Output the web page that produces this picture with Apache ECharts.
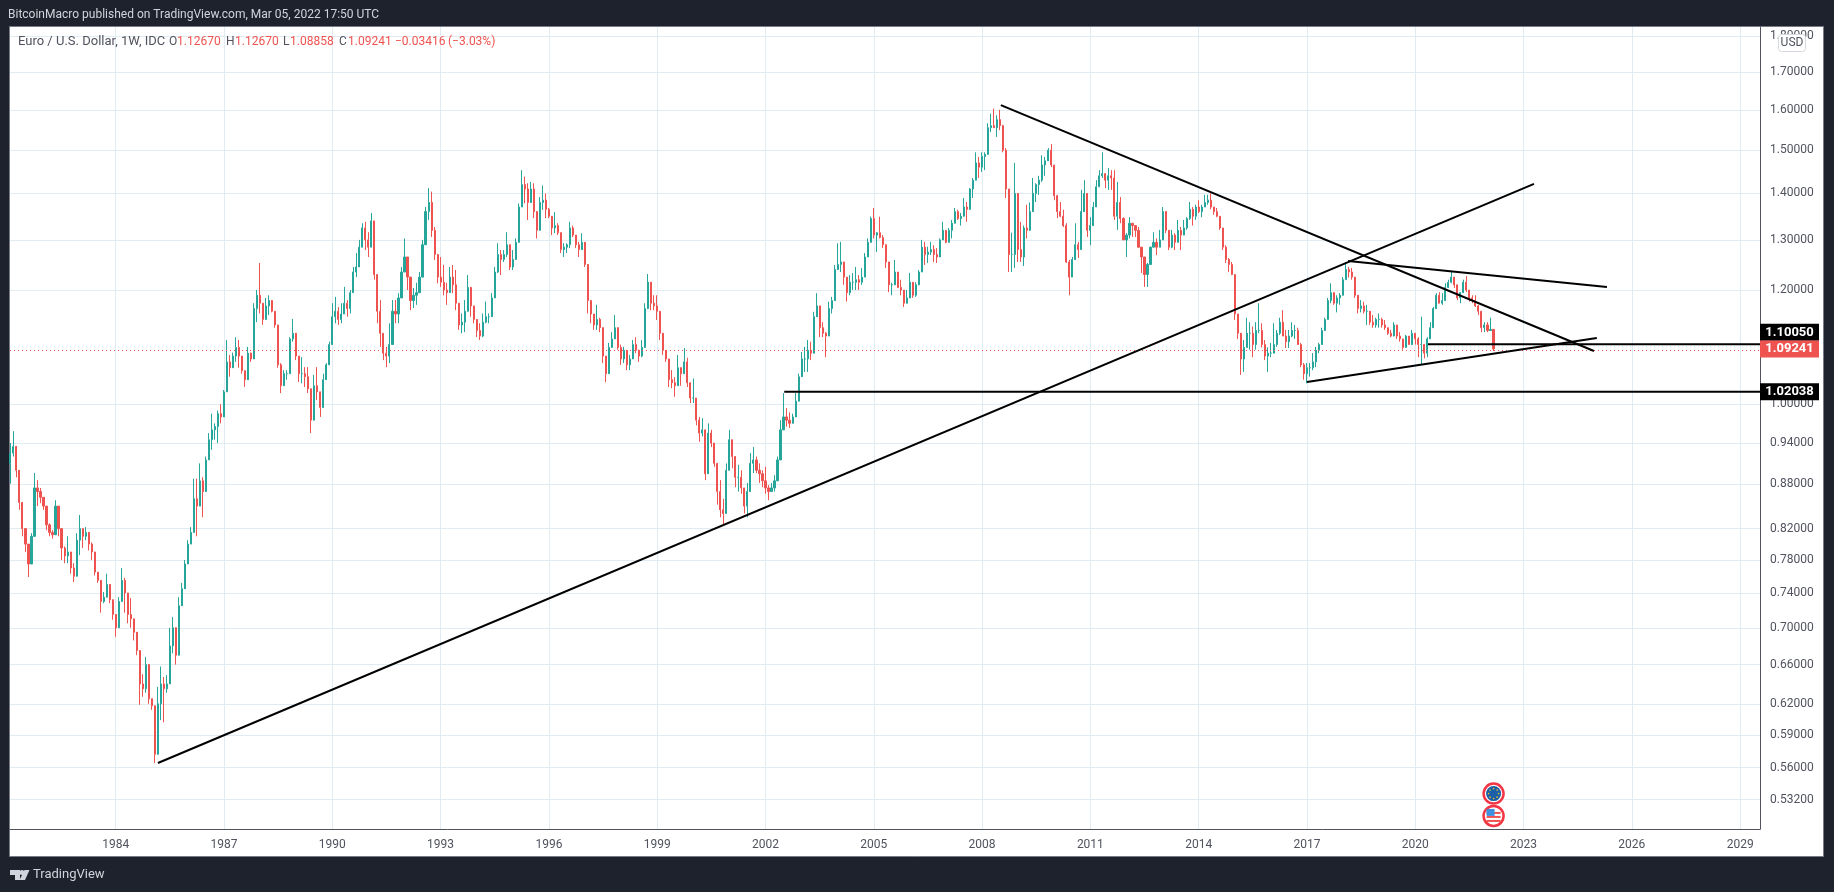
<!DOCTYPE html>
<html>
<head>
<meta charset="utf-8">
<title>EUR/USD weekly</title>
<script src="https://cdn.jsdelivr.net/npm/echarts@6/dist/echarts.min.js"></script>
<style>
  html, body { margin: 0; height: 100%; background: #1e222d; overflow: hidden; }
  #chart { width: 1834px; height: 892px; }
</style>
</head>
<body>
<div id="chart"></div>
<script>
// values, one row per year (first row starts Feb 1981, last ends Mar 2022)
const closes = [
  0.925,0.935,0.90,0.855,0.82,0.80,0.775,0.81,0.875,0.87,0.862,
  0.85,0.825,0.815,0.812,0.85,0.82,0.795,0.785,0.79,0.77,0.76,0.805,
  0.82,0.81,0.815,0.80,0.79,0.765,0.755,0.73,0.735,0.75,0.732,0.715,
  0.70,0.73,0.755,0.74,0.715,0.71,0.695,0.675,0.64,0.635,0.66,0.625,
  0.618,0.572,0.62,0.64,0.635,0.64,0.68,0.70,0.67,0.725,0.745,0.775,
  0.80,0.815,0.86,0.85,0.885,0.87,0.915,0.945,0.96,0.965,0.985,0.98,
  1.02,1.07,1.06,1.08,1.095,1.08,1.055,1.04,1.085,1.075,1.165,1.19,
  1.175,1.145,1.17,1.18,1.16,1.135,1.065,1.03,1.05,1.05,1.11,1.12,
  1.08,1.05,1.05,1.045,1.025,0.975,1.03,1.02,0.995,1.04,1.065,1.10,
  1.15,1.16,1.145,1.155,1.175,1.165,1.195,1.235,1.245,1.285,1.325,1.30,
  1.285,1.34,1.23,1.16,1.12,1.085,1.08,1.10,1.16,1.155,1.185,1.235,
  1.265,1.225,1.18,1.19,1.195,1.225,1.29,1.36,1.38,1.32,1.27,1.225,
  1.215,1.20,1.195,1.225,1.21,1.175,1.135,1.14,1.16,1.205,1.17,1.145,
  1.125,1.115,1.14,1.15,1.15,1.185,1.235,1.27,1.26,1.27,1.29,1.245,
  1.26,1.295,1.37,1.42,1.41,1.38,1.41,1.36,1.32,1.38,1.385,1.365,
  1.35,1.325,1.33,1.315,1.28,1.285,1.29,1.325,1.31,1.29,1.28,1.295,
  1.25,1.18,1.155,1.135,1.145,1.13,1.08,1.05,1.095,1.11,1.13,1.095,
  1.075,1.09,1.065,1.075,1.10,1.09,1.08,1.095,1.165,1.215,1.175,1.17,
  1.16,1.12,1.09,1.075,1.04,1.035,1.03,1.06,1.05,1.07,1.035,1.01,
  1.01,0.975,0.955,0.96,0.895,0.955,0.94,0.91,0.87,0.845,0.84,0.90,
  0.945,0.92,0.89,0.89,0.875,0.85,0.87,0.91,0.915,0.90,0.895,0.885,
  0.875,0.87,0.875,0.885,0.915,0.96,0.98,0.975,0.97,0.98,1.005,1.045,
  1.075,1.075,1.09,1.085,1.15,1.17,1.13,1.12,1.115,1.165,1.18,1.24,
  1.25,1.255,1.225,1.195,1.215,1.215,1.22,1.215,1.225,1.265,1.295,1.345,
  1.31,1.315,1.305,1.29,1.255,1.21,1.21,1.235,1.205,1.20,1.175,1.185,
  1.215,1.19,1.21,1.235,1.285,1.27,1.275,1.28,1.27,1.265,1.30,1.32,
  1.295,1.32,1.335,1.36,1.345,1.35,1.37,1.365,1.41,1.43,1.47,1.46,
  1.485,1.49,1.555,1.56,1.555,1.575,1.56,1.50,1.41,1.27,1.27,1.40,
  1.28,1.265,1.325,1.32,1.36,1.40,1.42,1.43,1.465,1.475,1.50,1.465,
  1.395,1.36,1.35,1.33,1.255,1.225,1.26,1.29,1.28,1.36,1.40,1.32,
  1.33,1.37,1.415,1.44,1.445,1.43,1.44,1.435,1.35,1.38,1.345,1.30,
  1.31,1.335,1.33,1.32,1.285,1.265,1.23,1.25,1.285,1.295,1.285,1.30,
  1.36,1.32,1.285,1.31,1.295,1.32,1.31,1.325,1.345,1.365,1.35,1.37,
  1.36,1.37,1.38,1.385,1.37,1.36,1.35,1.325,1.285,1.26,1.25,1.23,
  1.155,1.12,1.075,1.095,1.12,1.12,1.10,1.125,1.125,1.10,1.08,1.085,
  1.085,1.10,1.12,1.14,1.115,1.105,1.115,1.125,1.125,1.10,1.065,1.05,
  1.06,1.06,1.07,1.09,1.10,1.125,1.145,1.18,1.195,1.175,1.185,1.19,
  1.22,1.24,1.235,1.225,1.19,1.165,1.17,1.16,1.16,1.14,1.135,1.145,
  1.145,1.135,1.13,1.12,1.115,1.135,1.115,1.11,1.095,1.115,1.10,1.12,
  1.11,1.10,1.10,1.085,1.11,1.13,1.165,1.19,1.175,1.18,1.205,1.215,
  1.225,1.21,1.185,1.195,1.215,1.20,1.185,1.18,1.17,1.16,1.13,1.135,
  1.125,1.127,1.09241
];
const highs = [
  0.94,0.958,0.925,0.897,0.845,0.814,0.80,0.814,0.896,0.886,0.875,
  0.858,0.835,0.827,0.818,0.858,0.835,0.82,0.797,0.81,0.784,0.776,0.814,
  0.838,0.82,0.822,0.807,0.802,0.776,0.761,0.749,0.741,0.763,0.747,0.728,
  0.712,0.735,0.77,0.758,0.735,0.734,0.705,0.684,0.672,0.65,0.668,0.639,
  0.624,0.60,0.637,0.658,0.647,0.649,0.70,0.712,0.697,0.735,0.752,0.78,
  0.805,0.822,0.888,0.888,0.91,0.89,0.92,0.955,0.985,0.97,0.99,1.00,
  1.023,1.108,1.082,1.086,1.113,1.108,1.077,1.052,1.096,1.086,1.175,1.20,
  1.253,1.162,1.185,1.19,1.175,1.148,1.117,1.068,1.056,1.056,1.113,1.146,
  1.117,1.068,1.078,1.061,1.061,1.012,1.048,1.061,1.018,1.05,1.068,1.105,
  1.175,1.187,1.168,1.175,1.206,1.181,1.20,1.245,1.273,1.30,1.335,1.338,
  1.316,1.357,1.30,1.224,1.181,1.12,1.096,1.138,1.181,1.181,1.194,1.245,
  1.303,1.259,1.206,1.204,1.214,1.235,1.30,1.37,1.412,1.404,1.327,1.269,
  1.265,1.249,1.214,1.245,1.249,1.239,1.162,1.156,1.181,1.229,1.206,1.162,
  1.144,1.138,1.156,1.178,1.156,1.194,1.245,1.293,1.279,1.279,1.316,1.265,
  1.279,1.303,1.378,1.453,1.438,1.423,1.426,1.423,1.346,1.392,1.418,1.40,
  1.368,1.348,1.359,1.335,1.296,1.293,1.293,1.338,1.33,1.31,1.296,1.314,
  1.273,1.239,1.178,1.153,1.172,1.148,1.126,1.073,1.103,1.122,1.153,1.113,
  1.10,1.096,1.082,1.082,1.108,1.113,1.091,1.108,1.175,1.231,1.194,1.19,
  1.19,1.148,1.108,1.087,1.07,1.056,1.044,1.082,1.061,1.094,1.077,1.023,
  1.042,1.00,0.98,0.978,0.92,0.97,0.96,0.93,0.905,0.886,0.86,0.91,
  0.96,0.945,0.915,0.908,0.90,0.867,0.882,0.925,0.934,0.92,0.91,0.90,
  0.905,0.879,0.882,0.893,0.92,0.975,1.018,0.994,0.987,0.985,1.018,1.05,
  1.087,1.096,1.108,1.105,1.159,1.194,1.159,1.14,1.122,1.178,1.187,1.249,
  1.293,1.296,1.243,1.21,1.229,1.233,1.245,1.229,1.243,1.273,1.303,1.349,
  1.368,1.316,1.349,1.31,1.289,1.235,1.214,1.259,1.229,1.22,1.196,1.20,
  1.233,1.21,1.215,1.239,1.30,1.296,1.286,1.296,1.289,1.283,1.303,1.338,
  1.31,1.325,1.342,1.368,1.364,1.357,1.39,1.381,1.412,1.435,1.495,1.484,
  1.495,1.495,1.566,1.59,1.603,1.586,1.60,1.562,1.505,1.38,1.315,1.47,
  1.346,1.338,1.33,1.375,1.38,1.435,1.423,1.44,1.488,1.484,1.505,1.515,
  1.46,1.397,1.381,1.364,1.335,1.259,1.265,1.335,1.296,1.408,1.43,1.348,
  1.348,1.381,1.43,1.453,1.495,1.438,1.458,1.453,1.453,1.426,1.392,1.348,
  1.314,1.348,1.335,1.327,1.327,1.283,1.265,1.253,1.286,1.316,1.303,1.321,
  1.37,1.346,1.31,1.321,1.314,1.342,1.327,1.342,1.348,1.381,1.37,1.375,
  1.385,1.375,1.397,1.397,1.40,1.37,1.368,1.348,1.321,1.289,1.263,1.255,
  1.22,1.144,1.113,1.108,1.148,1.14,1.132,1.14,1.175,1.138,1.108,1.095,
  1.103,1.138,1.126,1.148,1.162,1.126,1.126,1.14,1.135,1.13,1.103,1.068,
  1.068,1.068,1.085,1.096,1.103,1.13,1.148,1.185,1.213,1.187,1.19,1.194,
  1.225,1.255,1.245,1.243,1.22,1.185,1.181,1.178,1.172,1.156,1.153,1.148,
  1.156,1.148,1.144,1.13,1.126,1.14,1.13,1.122,1.11,1.117,1.113,1.126,
  1.12,1.113,1.15,1.096,1.113,1.14,1.168,1.194,1.196,1.194,1.213,1.22,
  1.235,1.224,1.206,1.196,1.22,1.227,1.194,1.19,1.19,1.172,1.156,1.14,
  1.14,1.148,1.1267
];
const lows = [
  0.881,0.92,0.89,0.845,0.81,0.79,0.759,0.784,0.827,0.85,0.854,
  0.845,0.818,0.81,0.807,0.822,0.81,0.78,0.776,0.776,0.763,0.753,0.763,
  0.786,0.795,0.805,0.792,0.78,0.761,0.752,0.717,0.728,0.738,0.728,0.709,
  0.69,0.705,0.735,0.717,0.705,0.70,0.686,0.67,0.619,0.627,0.631,0.62,
  0.614,0.564,0.578,0.604,0.602,0.631,0.647,0.672,0.66,0.697,0.734,0.759,
  0.789,0.805,0.827,0.81,0.876,0.835,0.888,0.92,0.93,0.945,0.94,0.97,
  1.002,1.045,1.045,1.068,1.07,1.06,1.05,1.028,1.06,1.07,1.108,1.14,
  1.156,1.135,1.15,1.153,1.158,1.13,1.06,1.018,1.03,1.04,1.056,1.105,
  1.073,1.036,1.034,1.028,1.018,0.955,0.98,1.007,0.98,1.004,1.05,1.09,
  1.126,1.138,1.135,1.138,1.156,1.15,1.156,1.195,1.225,1.26,1.293,1.279,
  1.265,1.30,1.22,1.138,1.096,1.073,1.061,1.068,1.12,1.138,1.138,1.194,
  1.253,1.20,1.162,1.166,1.172,1.194,1.239,1.30,1.342,1.306,1.259,1.213,
  1.206,1.19,1.172,1.204,1.194,1.162,1.126,1.12,1.122,1.185,1.15,1.138,
  1.113,1.108,1.113,1.138,1.138,1.168,1.206,1.233,1.229,1.255,1.265,1.239,
  1.239,1.273,1.327,1.378,1.378,1.342,1.385,1.346,1.303,1.335,1.364,1.346,
  1.346,1.31,1.314,1.31,1.273,1.265,1.273,1.283,1.306,1.283,1.265,1.283,
  1.245,1.156,1.138,1.126,1.126,1.122,1.068,1.036,1.068,1.096,1.113,1.091,
  1.065,1.068,1.056,1.056,1.085,1.085,1.07,1.078,1.126,1.19,1.162,1.162,
  1.144,1.108,1.082,1.07,1.028,1.026,1.012,1.05,1.03,1.061,1.028,1.002,
  1.002,0.967,0.942,0.95,0.886,0.92,0.934,0.905,0.852,0.835,0.825,0.862,
  0.92,0.903,0.876,0.87,0.867,0.84,0.835,0.882,0.896,0.896,0.882,0.876,
  0.867,0.858,0.87,0.87,0.90,0.92,0.972,0.965,0.963,0.97,0.988,1.018,
  1.05,1.053,1.053,1.073,1.103,1.159,1.113,1.113,1.078,1.14,1.156,1.196,
  1.239,1.235,1.21,1.178,1.19,1.20,1.20,1.20,1.21,1.239,1.269,1.321,
  1.303,1.275,1.303,1.283,1.243,1.196,1.19,1.215,1.204,1.19,1.168,1.178,
  1.196,1.185,1.187,1.21,1.243,1.249,1.253,1.269,1.255,1.253,1.275,1.303,
  1.293,1.30,1.303,1.335,1.342,1.33,1.364,1.338,1.364,1.39,1.44,1.435,
  1.449,1.453,1.49,1.544,1.555,1.532,1.549,1.495,1.39,1.235,1.235,1.243,
  1.255,1.255,1.247,1.303,1.325,1.381,1.381,1.397,1.426,1.44,1.483,1.46,
  1.385,1.346,1.348,1.327,1.253,1.19,1.225,1.285,1.263,1.306,1.378,1.306,
  1.289,1.346,1.385,1.415,1.435,1.412,1.408,1.408,1.342,1.321,1.335,1.30,
  1.265,1.303,1.306,1.306,1.283,1.233,1.206,1.206,1.253,1.286,1.269,1.289,
  1.321,1.314,1.279,1.283,1.279,1.306,1.279,1.314,1.321,1.342,1.33,1.342,
  1.357,1.348,1.375,1.375,1.365,1.353,1.348,1.321,1.279,1.253,1.235,1.229,
  1.144,1.11,1.048,1.053,1.103,1.091,1.078,1.091,1.12,1.095,1.073,1.053,
  1.078,1.091,1.096,1.117,1.115,1.094,1.094,1.113,1.11,1.10,1.061,1.04,
  1.034,1.045,1.056,1.061,1.085,1.105,1.126,1.153,1.175,1.172,1.158,1.172,
  1.194,1.22,1.224,1.22,1.185,1.156,1.158,1.156,1.135,1.135,1.13,1.13,
  1.13,1.13,1.126,1.117,1.113,1.12,1.11,1.105,1.091,1.10,1.10,1.108,
  1.10,1.078,1.065,1.076,1.078,1.126,1.132,1.168,1.175,1.172,1.19,1.204,
  1.213,1.204,1.181,1.175,1.206,1.196,1.178,1.175,1.168,1.153,1.122,1.122,
  1.122,1.126,1.08858
];

const firstBarYear = 1981 + 1 / 12;
const yearTicks = [1984, 1987, 1990, 1993, 1996, 1999, 2002, 2005, 2008, 2011, 2014, 2017, 2020, 2023, 2026, 2029];
const priceTicks = [0.532, 0.56, 0.59, 0.62, 0.66, 0.70, 0.74, 0.78, 0.82, 0.88, 0.94, 1.0, 1.2, 1.3, 1.4, 1.5, 1.6, 1.7, 1.8];

// drawn trend lines: [year, price] end points
const trendLines = [
  [[1985.17, 0.5641], [2023.29, 1.4215]],
  [[2008.52, 1.612], [2024.95, 1.0888]],
  [[2018.14, 1.257], [2025.31, 1.2059]],
  [[2017.0, 1.0362], [2025.03, 1.1116]],
  [[2020.35, 1.1005], [2029.55, 1.1005]],
  [[2002.52, 1.02038], [2029.55, 1.02038]]
];
const tagPrices = [1.02038, 1.1005, 1.09241];
const tagColors = ['#000000', '#000000', '#ef5350'];
const tagShifts = [0, -12, 0];  // the 1.10050 tag is pushed up off the last-price tag
const lastPrice = 1.09241;
const eventMarks = [[2022.17, 0.5372, 'eu'], [2022.17, 0.5184, 'us']];

const legendTexts = ['Euro / U.S. Dollar, 1W, IDC', 'O', '1.12670', 'H', '1.12670', 'L', '1.08858', 'C', '1.09241', '\u22120.03416', '(\u22123.03%)'];
const legendLeft = [18, 169, 177, 226, 235, 283, 290, 339, 348, 395, 448];

const xMin = 1981.072, xMax = 2029.55;
const textGrey = '#50535e';

const candles = closes.map((c, i) => [
  firstBarYear + i / 12,
  i === 0 ? 0.91 : closes[i - 1],
  c, lows[i], highs[i]
]);

function eventItem(params, api) {
  const p = api.coord([api.value(0), api.value(1)]);
  const kind = eventMarks[params.dataIndex][2];
  const kids = [{ type: 'circle', shape: { cx: p[0], cy: p[1], r: 10 }, style: { fill: '#fff', stroke: '#f23645', lineWidth: 2.5 } }];
  if (kind === 'eu') {
    kids.push({ type: 'circle', shape: { cx: p[0], cy: p[1], r: 7.5 }, style: { fill: '#1a5fa8' } });
    for (let k = 0; k < 8; k++) {
      const a = k * Math.PI / 4;
      kids.push({ type: 'circle', shape: { cx: p[0] + 5 * Math.cos(a), cy: p[1] + 5 * Math.sin(a), r: 0.8 }, style: { fill: '#f5c518' } });
    }
  } else {
    [-4, 0, 4].forEach(d => {
      kids.push({ type: 'rect', shape: { x: p[0] - 7, y: p[1] + d, width: 14, height: 2 }, style: { fill: '#ef5350' } });
    });
    kids.push({ type: 'rect', shape: { x: p[0] - 7, y: p[1] - 7, width: 8, height: 7 }, style: { fill: '#3f8fe0' } });
  }
  return { type: 'group', children: kids };
}

const chart = echarts.init(document.getElementById('chart'));
chart.setOption({
  animation: false,
  backgroundColor: '#1e222d',
  textStyle: { fontFamily: 'Roboto' },
  title: {
    left: 8, top: 9, padding: 0,
    text: 'BitcoinMacro published on TradingView.com, Mar 05, 2022 17:50 UTC',
    textStyle: { color: '#d1d4dc', fontSize: 12, fontWeight: 'normal', fontFamily: 'Roboto' }
  },
  grid: { left: 10, top: 27, width: 1750, height: 802, show: true, backgroundColor: '#fff', borderWidth: 0 },
  xAxis: {
    type: 'value', min: xMin, max: xMax,
    axisLine: { show: true, onZero: false, lineStyle: { color: textGrey } },
    axisTick: { show: false, customValues: yearTicks },
    axisLabel: { customValues: yearTicks, color: textGrey, fontSize: 12, margin: 10, formatter: v => String(v) },
    splitLine: { show: true, lineStyle: { color: '#e1ecf2', width: 1 } }
  },
  yAxis: {
    type: 'log', position: 'right', min: 0.5077, max: 1.826,
    axisLine: { show: true, lineStyle: { color: textGrey } },
    axisTick: { show: false, customValues: priceTicks },
    axisLabel: { customValues: priceTicks, color: textGrey, fontSize: 12, margin: 10, formatter: v => v.toFixed(5) },
    splitLine: { show: true, lineStyle: { color: '#e1ecf2', width: 1 } }
  },
  graphic: [
    { type: 'rect', z: -10, silent: true, shape: { x: 9.5, y: 26.5, width: 1814, height: 830 }, style: { fill: '#fff', stroke: '#787b86', lineWidth: 1 } },
    { type: 'rect', z: 20, shape: { x: 1778.5, y: 34.5, width: 27, height: 17, r: 3 }, style: { fill: '#fff', stroke: '#d6d8e0', lineWidth: 1 } },
    { type: 'text', z: 21, x: 1792, y: 43, style: { text: 'USD', fill: textGrey, font: '12px Roboto', textAlign: 'center', textVerticalAlign: 'middle' } },
    { type: 'polygon', shape: { points: [[10, 870], [20, 870], [20, 880], [15, 880], [15, 875], [10, 875]] }, style: { fill: '#d1d4dc' } },
    { type: 'circle', shape: { cx: 22, cy: 872.5, r: 2.5 }, style: { fill: '#d1d4dc' } },
    { type: 'polygon', shape: { points: [[24.5, 870], [29.5, 870], [25, 880], [19.5, 880]] }, style: { fill: '#d1d4dc' } },
    { type: 'text', x: 33, y: 875, style: { text: 'TradingView', fill: '#d1d4dc', font: '13px Roboto', textVerticalAlign: 'middle' } },
    ...legendTexts.map((t, i) => ({
      type: 'text', z: 21, x: legendLeft[i], y: 42,
      style: {
        text: t,
        fill: (i === 0 || i === 1 || i === 3 || i === 5 || i === 7) ? textGrey : '#ef5350',
        font: (i === 0 ? '13px' : '12px') + ' Roboto',
        textVerticalAlign: 'middle'
      }
    }))
  ],
  series: [
    {
      type: 'candlestick', name: 'EURUSD', data: candles, barWidth: 1.6, z: 3,
      itemStyle: { color: '#26a69a', color0: '#ef5350', borderColor: '#26a69a', borderColor0: '#ef5350', borderWidth: 1 },
      markLine: {
        silent: true, symbol: 'none', label: { show: false },
        lineStyle: { color: '#ef5350', type: [1, 3], width: 1 },
        data: [{ yAxis: lastPrice }]
      }
    },
    ...trendLines.map(seg => ({
      type: 'line', data: seg, showSymbol: false, z: 5, silent: true,
      lineStyle: { color: '#000', width: 2 }
    })),
    {
      type: 'custom', data: eventMarks.map(e => [e[0], e[1]]), renderItem: eventItem, clip: false, z: 6, silent: true
    },
    {
      type: 'scatter', silent: true, z: 10, clip: false, symbol: 'rect', symbolSize: [59, 17],
      data: tagPrices.map((p, i) => ({
        value: [xMax, p],
        symbolOffset: [29.5, tagShifts[i]],
        itemStyle: { color: tagColors[i], opacity: 1 },
        label: { show: true, position: 'inside', color: '#fff', fontSize: 13, fontWeight: 'bold', formatter: p.toFixed(5) }
      }))
    }
  ]
});
</script>
</body>
</html>
